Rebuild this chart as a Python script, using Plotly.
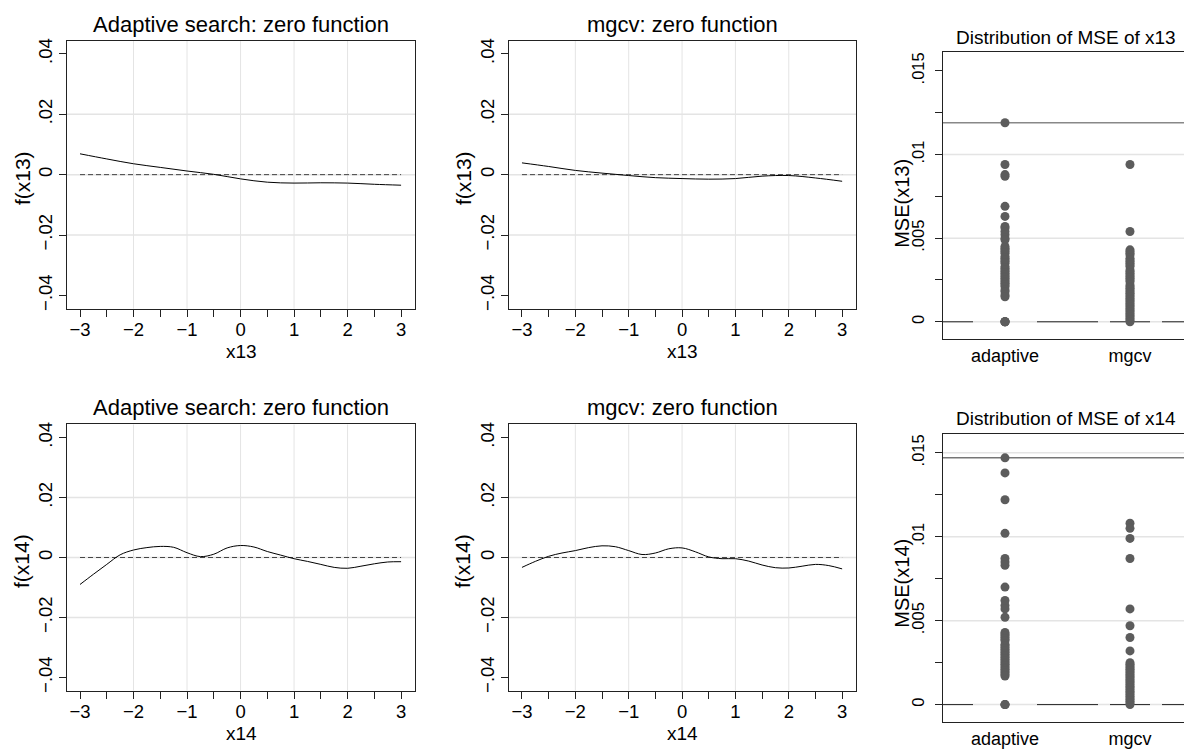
import plotly.graph_objects as go

# fitted curves
x13_grid = [-3, -2.5, -2, -1.5, -1, -0.5, 0, 0.5, 1, 1.5, 2, 2.5, 3]
f13_adaptive = [0.0069, 0.0052, 0.0036, 0.0024, 0.0012, 0.0001, -0.0014, -0.0025, -0.0028, -0.0027, -0.0028, -0.0032, -0.0035]
f13_mgcv = [0.0039, 0.0027, 0.0014, 0.0005, -0.0003, -0.0010, -0.0013, -0.0015, -0.0013, -0.0005, -0.0003, -0.0011, -0.0022]

x14_grid = [-3, -2.75, -2.5, -2.25, -2, -1.75, -1.5, -1.25, -1, -0.75, -0.5, -0.25, 0,
            0.25, 0.5, 0.75, 1, 1.25, 1.5, 1.75, 2, 2.25, 2.5, 2.75, 3]
f14_adaptive = [-0.0090, -0.0056, -0.0023, 0.0009, 0.0025, 0.0033, 0.0037, 0.0034, 0.0016, 0.0003, 0.0011, 0.0032, 0.0040,
                0.0035, 0.0020, 0.0008, -0.0004, -0.0013, -0.0023, -0.0033, -0.0036, -0.0029, -0.0021, -0.0015, -0.0014]
f14_mgcv = [-0.0033, -0.0013, 0.0004, 0.0015, 0.0023, 0.0033, 0.0039, 0.0036, 0.0023, 0.0010, 0.0015, 0.0029, 0.0032,
            0.0019, 0.0002, -0.0004, -0.0004, -0.0012, -0.0025, -0.0034, -0.0035, -0.0029, -0.0023, -0.0027, -0.0038]

# MSE per replication
mse13_adaptive = [0.0119, 0.0094, 0.0088, 0.0087, 0.0069, 0.0063, 0.0057, 0.0056, 0.0054, 0.0052, 0.0050, 0.0049,
                  0.0045, 0.0044, 0.0043, 0.0042, 0.0041, 0.0039, 0.0038, 0.0037, 0.0036, 0.0035, 0.0033, 0.0032,
                  0.0031, 0.0030, 0.0029, 0.0028, 0.0027, 0.0026, 0.0025, 0.0024, 0.0023, 0.0022, 0.0021, 0.0019,
                  0.0018, 0.0016, 0.0015, 0.0, 0.0, 0.0, 0.0]
mse13_mgcv = [0.0094, 0.0054, 0.0043, 0.0042, 0.0041, 0.0040, 0.0038, 0.0037, 0.0036, 0.0035, 0.0034, 0.0033,
              0.0031, 0.0030, 0.0029, 0.0028, 0.0027, 0.0026, 0.0025, 0.0024, 0.0022, 0.0021, 0.0020, 0.0019,
              0.0018, 0.0017, 0.0016, 0.0015, 0.0014, 0.0013, 0.0012, 0.0011, 0.0010, 0.0009, 0.0008, 0.0007,
              0.0006, 0.0005, 0.0004, 0.0003, 0.0002, 0.0001, 0.0]
mse14_adaptive = [0.0147, 0.0138, 0.0122, 0.0102, 0.0087, 0.0085, 0.0083, 0.0070, 0.0062, 0.0059, 0.0057, 0.0052,
                  0.0043, 0.0042, 0.0041, 0.0040, 0.0039, 0.0038, 0.0036, 0.0035, 0.0034, 0.0033, 0.0032, 0.0031,
                  0.0030, 0.0029, 0.0028, 0.0027, 0.0026, 0.0025, 0.0024, 0.0023, 0.0022, 0.0021, 0.0020, 0.0019,
                  0.0018, 0.0017, 0.0, 0.0, 0.0]
mse14_mgcv = [0.0108, 0.0105, 0.0099, 0.0087, 0.0057, 0.0047, 0.0040, 0.0032, 0.0025, 0.0024, 0.0023, 0.0022,
              0.0021, 0.0020, 0.0019, 0.0018, 0.0017, 0.0016, 0.0015, 0.0014, 0.0013, 0.0012, 0.0011, 0.0010,
              0.0009, 0.0008, 0.0007, 0.0006, 0.0005, 0.0004, 0.0003, 0.0002, 0.0001, 0.0]

methods = ['adaptive', 'mgcv']
x_ticks = [-3, -2, -1, 0, 1, 2, 3]
x_ticktext = ['\u22123', '\u22122', '\u22121', '0', '1', '2', '3']
f_ticks = [-0.04, -0.02, 0, 0.02, 0.04]
f_ticktext = ['\u2212.04', '\u2212.02', '0', '.02', '.04']
mse_ticks = [0, 0.005, 0.01, 0.015]
mse_ticktext = ['0', '.005', '.01', '.015']

W, H = 1184, 749
FONT = 'Liberation Sans, Arial, Helvetica, sans-serif'
LINE = '#222222'
GRID = '#e4e4e4'
DOT = '#5c5c5c'


def px_x(a, b):
    return [a / W, b / W]


def px_y(top, bottom):
    return [1 - bottom / H, 1 - top / H]


fig = go.Figure()

# function panels: (axis suffix, x values, fitted, x domain px, y domain px)
f_panels = [
    ('', x13_grid, f13_adaptive, (67, 415), (39, 310)),
    ('2', x13_grid, f13_mgcv, (509, 856), (39, 310)),
    ('4', x14_grid, f14_adaptive, (67, 415), (427, 696)),
    ('5', x14_grid, f14_mgcv, (509, 856), (427, 696)),
]
for sfx, xs, ys, xd, yd in f_panels:
    fig.add_trace(go.Scatter(x=[xs[0], xs[-1]], y=[0, 0], mode='lines',
                             line=dict(color='#444444', width=1, dash='5px,3px'),
                             xaxis='x' + sfx, yaxis='y' + sfx, hoverinfo='skip'))
    fig.add_trace(go.Scatter(x=xs, y=ys, mode='lines', line=dict(color='black', width=1, shape='spline'),
                             xaxis='x' + sfx, yaxis='y' + sfx))
    fig.layout['xaxis' + sfx] = dict(
        domain=px_x(*xd), anchor='y' + sfx, range=[-3.243, 3.26],
        tickvals=x_ticks, ticktext=x_ticktext, ticks='outside', ticklen=7, tickcolor=LINE,
        minor=dict(tickvals=[-2.5, -1.5, -0.5, 0.5, 1.5, 2.5], ticks='outside', ticklen=7, tickcolor=LINE, showgrid=False),
        showgrid=False, zeroline=False, showline=True, mirror=True, linecolor=LINE, linewidth=1,
        ticklabelstandoff=-3, tickfont=dict(size=18.5, color='black'))
    fig.layout['yaxis' + sfx] = dict(
        domain=px_y(*yd), anchor='x' + sfx, range=[-0.0444, 0.0444],
        tickvals=f_ticks, ticktext=f_ticktext, tickangle=-90, ticks='outside', ticklen=7, tickcolor=LINE,
        showgrid=False, zeroline=False, showline=True, mirror=True, linecolor=LINE, linewidth=1,
        tickfont=dict(size=18.5, color='black'))
    # grid lines (Stata leaves out the outermost ones)
    for gx in [-2, -1, 0, 1, 2]:
        fig.add_shape(type='line', xref='x' + sfx, yref='y' + sfx + ' domain', x0=gx, x1=gx, y0=0, y1=1,
                      line=dict(color=GRID, width=1), layer='below')
    for gy in [-0.02, 0, 0.02]:
        fig.add_shape(type='line', xref='x' + sfx + ' domain', yref='y' + sfx, x0=0, x1=1, y0=gy, y1=gy,
                      line=dict(color=GRID, width=1.5), layer='below')

# MSE panels
mse_panels = [
    ('3', mse13_adaptive, mse13_mgcv, (51, 341), [0, 0.005, 0.01], '#888888', 1.5),
    ('6', mse14_adaptive, mse14_mgcv, (437, 728), [0, 0.005, 0.01, 0.015], '#333333', 1),
]
for sfx, ad, mg, yd, grid_vals, ref_col, ref_w in mse_panels:
    fig.add_trace(go.Scatter(x=[methods[0]] * len(ad) + [methods[1]] * len(mg), y=ad + mg, mode='markers',
                             marker=dict(color=DOT, size=9, line=dict(width=0)),
                             xaxis='x' + sfx, yaxis='y' + sfx))
    fig.layout['xaxis' + sfx] = dict(
        domain=px_x(943, 1184), anchor='y' + sfx, type='category', categoryorder='array',
        categoryarray=methods, range=[-0.496, 1.432], ticks='', showgrid=False, zeroline=False,
        showline=True, mirror=True, linecolor=LINE, linewidth=1, tickfont=dict(size=18, color='black'))
    fig.layout['yaxis' + sfx] = dict(
        domain=px_y(*yd), anchor='x' + sfx, range=[-0.00105, 0.0161],
        tickvals=mse_ticks, ticktext=mse_ticktext, tickangle=-90, ticks='outside', ticklen=7, tickcolor=LINE,
        minor=dict(tickvals=[0.0025, 0.0075, 0.0125], ticks='outside', ticklen=7, tickcolor=LINE, showgrid=False),
        showgrid=False, zeroline=False, showline=True, mirror=False, linecolor=LINE, linewidth=1,
        ticklabelstandoff=4, tickfont=dict(size=16.5, color='black'))
    for gy in grid_vals:
        fig.add_shape(type='line', xref='x' + sfx + ' domain', yref='y' + sfx, x0=0, x1=1, y0=gy, y1=gy,
                      line=dict(color=GRID, width=1.5), layer='below')
    # line at the largest MSE and the zero reference
    fig.add_shape(type='line', xref='x' + sfx + ' domain', yref='y' + sfx, x0=0, x1=1, y0=max(ad + mg), y1=max(ad + mg),
                  line=dict(color=ref_col, width=ref_w), layer='below')
    fig.add_shape(type='line', xref='x' + sfx + ' domain', yref='y' + sfx, x0=0, x1=1, y0=0, y1=0,
                  line=dict(color='#222222', width=1, dash='30px,64px,61px,12px,40px,12px,40px'), layer='below')

# titles and axis titles as annotations
texts = [
    ('Adaptive search: zero function', 241, 23, 22, 0),
    ('mgcv: zero function', 682.5, 23, 22, 0),
    ('Distribution of MSE of x13', 1066, 36, 19, 0),
    ('Adaptive search: zero function', 241, 410, 22, 0),
    ('mgcv: zero function', 682.5, 410, 22, 0),
    ('Distribution of MSE of x14', 1066, 421, 19, 0),
    ('x13', 241, 353, 19, 0),
    ('x13', 682.5, 353, 19, 0),
    ('x14', 241, 739, 19, 0),
    ('x14', 682.5, 739, 19, 0),
    ('f(x13)', 22, 178, 21, -90),
    ('f(x13)', 463, 178, 21, -90),
    ('f(x14)', 22, 565, 21, -90),
    ('f(x14)', 463, 565, 21, -90),
    ('MSE(x13)', 902, 204, 20, -90),
    ('MSE(x14)', 902, 588, 20, -90),
]
for txt, x, y, size, ang in texts:
    fig.add_annotation(text=txt, x=x / W, y=1 - y / H, xref='paper', yref='paper', showarrow=False,
                       xanchor='center', yanchor='middle', textangle=ang, font=dict(size=size, color='black'))

fig.update_layout(
    width=W, height=H, margin=dict(l=0, r=0, t=0, b=0),
    paper_bgcolor='white', plot_bgcolor='white', showlegend=False,
    font=dict(family=FONT, color='black'),
)

# the page's default body margin would push the figure 8px off the window
fig.write_html("out.html", config={'displayModeBar': False},
               post_script="document.body.style.margin='0';")
